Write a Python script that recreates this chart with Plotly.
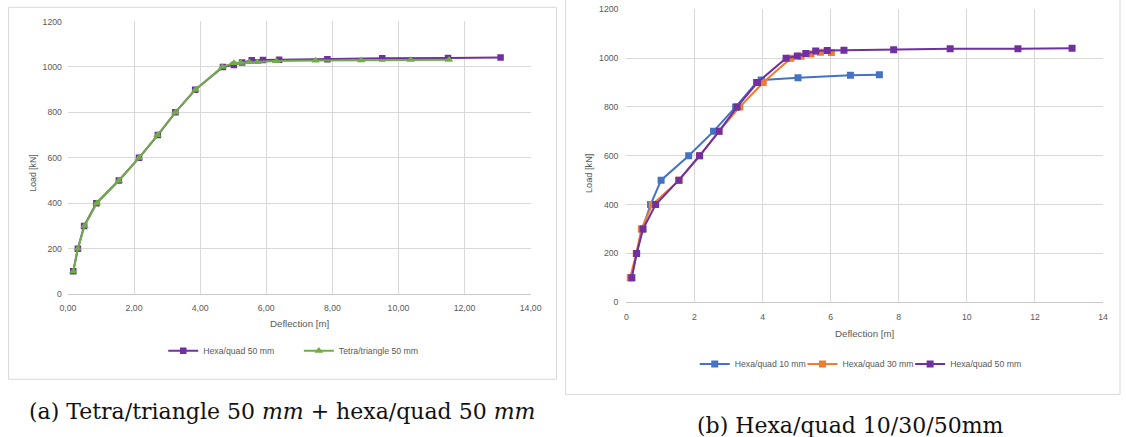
import plotly.graph_objects as go

# ---------------- data ----------------
hexa50_x = [0.16, 0.30, 0.49, 0.86, 1.54, 2.15, 2.72, 3.25, 3.85, 4.69, 5.02, 5.27, 5.56, 5.90, 6.39, 7.85, 9.51, 11.50, 13.09]
hexa50_y = [100, 200, 300, 400, 500, 600, 700, 800, 900, 1000, 1009, 1019, 1029, 1031, 1032, 1034, 1038, 1039, 1041]

tetra50_x = [0.16, 0.30, 0.50, 0.87, 1.54, 2.15, 2.71, 3.25, 3.86, 4.67, 5.02, 5.23, 5.49, 5.73, 6.30, 7.49, 8.87, 10.37, 11.53]
tetra50_y = [100, 200, 300, 400, 500, 600, 700, 800, 900, 1000, 1017, 1018, 1021, 1021, 1026, 1028, 1029, 1031, 1032]

hexa10_x = [0.14, 0.30, 0.47, 0.71, 1.02, 1.83, 2.56, 3.21, 3.82, 3.96, 5.04, 6.58, 7.43]
hexa10_y = [100, 200, 300, 400, 500, 600, 700, 800, 900, 910, 920, 930, 932]

hexa30_x = [0.11, 0.29, 0.44, 0.76, 1.55, 2.15, 2.72, 3.33, 4.02, 4.83, 5.13, 5.42, 5.70, 6.02]
hexa30_y = [100, 200, 300, 400, 500, 600, 700, 800, 900, 1000, 1008, 1017, 1024, 1023]

left_xticks = [0, 2, 4, 6, 8, 10, 12, 14]
right_xticks = [0, 2, 4, 6, 8, 10, 12, 14]
yticks = [0, 200, 400, 600, 800, 1000, 1200]

caption_a = "(a) Tetra/triangle 50 <i>mm</i> + hexa/quad 50 <i>mm</i>"
caption_b = "(b) Hexa/quad 10/30/50mm"

# ---------------- layout geometry ----------------
# target positions below are given in picture pixels (1126 x 437);
# the page offsets the figure by the 8px body margin and the capture is
# scaled by (1126/1142, 437/453), so convert target pixels into figure pixels.
OFF = 8
SX, SY = 1126 / 1142, 437 / 453
FW, FH = 1134, 445

PURPLE = "#7030A0"
GREEN = "#70AD47"
BLUE = "#4472C4"
ORANGE = "#ED7D31"
GRID = "#d9d9d9"
TXT = "#595959"
FONT = "Liberation Sans"


def fxp(x):
    return x / SX - OFF


def fyp(y):
    return y / SY - OFF


def px(x):
    return fxp(x) / FW


def py(y):
    return 1 - fyp(y) / FH


fig = go.Figure()

# left chart
fig.add_trace(go.Scatter(x=hexa50_x, y=hexa50_y, mode="lines+markers", name="Hexa/quad 50 mm",
                         line=dict(color=PURPLE, width=2), marker=dict(symbol="square", size=6.5, color=PURPLE),
                         xaxis="x", yaxis="y", legend="legend"))
fig.add_trace(go.Scatter(x=tetra50_x, y=tetra50_y, mode="lines+markers", name="Tetra/triangle 50 mm",
                         line=dict(color=GREEN, width=2), marker=dict(symbol="triangle-up", size=7.5, color=GREEN),
                         xaxis="x", yaxis="y", legend="legend2"))

# right chart
fig.add_trace(go.Scatter(x=hexa10_x, y=hexa10_y, mode="lines+markers", name="Hexa/quad 10 mm",
                         line=dict(color=BLUE, width=2), marker=dict(symbol="square", size=7, color=BLUE),
                         xaxis="x2", yaxis="y2", legend="legend3"))
fig.add_trace(go.Scatter(x=hexa30_x, y=hexa30_y, mode="lines+markers", name="Hexa/quad 30 mm",
                         line=dict(color=ORANGE, width=2), marker=dict(symbol="square", size=7, color=ORANGE),
                         xaxis="x2", yaxis="y2", legend="legend4"))
fig.add_trace(go.Scatter(x=hexa50_x, y=hexa50_y, mode="lines+markers", name="Hexa/quad 50 mm",
                         line=dict(color=PURPLE, width=2), marker=dict(symbol="square", size=7, color=PURPLE),
                         xaxis="x2", yaxis="y2", legend="legend5"))

axis_common = dict(showgrid=True, gridcolor=GRID, gridwidth=1, zeroline=False, ticks="",
                   tickfont=dict(family=FONT, size=8.7, color=TXT), fixedrange=True)


def leg(text_start, ymid):
    return dict(orientation="h", x=(fxp(text_start) - 40) / FW, xanchor="left", y=py(ymid), yanchor="middle",
                font=dict(family=FONT, size=8.7, color=TXT), bgcolor="rgba(0,0,0,0)", borderwidth=0)


fig.update_layout(
    width=FW, height=FH, margin=dict(l=0, r=0, t=0, b=0),
    paper_bgcolor="white", plot_bgcolor="white",
    separators=",.",
    font=dict(family=FONT, color=TXT),
    xaxis=dict(domain=[px(68), px(532)], range=[0, 14], tickvals=left_xticks, tickformat=".2f",
               anchor="y", showline=True, linecolor="#c8c8c8", ticklabelstandoff=5, **axis_common),
    yaxis=dict(domain=[py(293), py(24)], range=[0, 1200], tickvals=yticks, tickformat="d",
               anchor="x", ticklabelstandoff=5, **axis_common),
    xaxis2=dict(domain=[px(628), px(1106)], range=[0, 14], tickvals=right_xticks, tickformat="d",
                anchor="y2", showline=True, linecolor="#c8c8c8", ticklabelstandoff=6, **axis_common),
    yaxis2=dict(domain=[py(301), py(12)], range=[0, 1200], tickvals=yticks, tickformat="d",
                anchor="x2", ticklabelstandoff=7, **axis_common),
    legend=leg(203, 349),
    legend2=leg(339, 349),
    legend3=leg(736, 362),
    legend4=leg(844, 362),
    legend5=leg(952, 362),
    showlegend=True,
)

# frames
fig.add_shape(type="rect", xref="paper", yref="paper", x0=px(8.5), x1=px(558), y0=py(377), y1=py(10),
              line=dict(color=GRID, width=1), layer="below")
fig.add_shape(type="rect", xref="paper", yref="paper", x0=px(567), x1=px(1123), y0=py(392), y1=py(2),
              line=dict(color=GRID, width=1), layer="below")

# axis titles
ann = [
    dict(text="Deflection [m]", x=px(300), y=py(322), size=9.7),
    dict(text="Load [kN]", x=px(33), y=py(174), textangle=-90, size=8.7),
    dict(text="Deflection [m]", x=px(867), y=py(332), size=9.7),
    dict(text="Load [kN]", x=px(591), y=py(174), textangle=-90, size=9.2),
]
for a in ann:
    fig.add_annotation(xref="paper", yref="paper", showarrow=False, xanchor="center", yanchor="middle",
                       text=a["text"], x=a["x"], y=a["y"], textangle=a.get("textangle", 0),
                       font=dict(family=FONT, color=TXT, size=a["size"]))

# captions
fig.add_annotation(text=caption_a, xref="paper", yref="paper", x=px(283), y=py(409), showarrow=False,
                   xanchor="center", yanchor="middle", font=dict(family="DejaVu Serif", size=22, color="#111111"))
fig.add_annotation(text=caption_b, xref="paper", yref="paper", x=px(852), y=py(423), showarrow=False,
                   xanchor="center", yanchor="middle", font=dict(family="DejaVu Serif", size=22, color="#111111"))

fig.write_html("out.html")
